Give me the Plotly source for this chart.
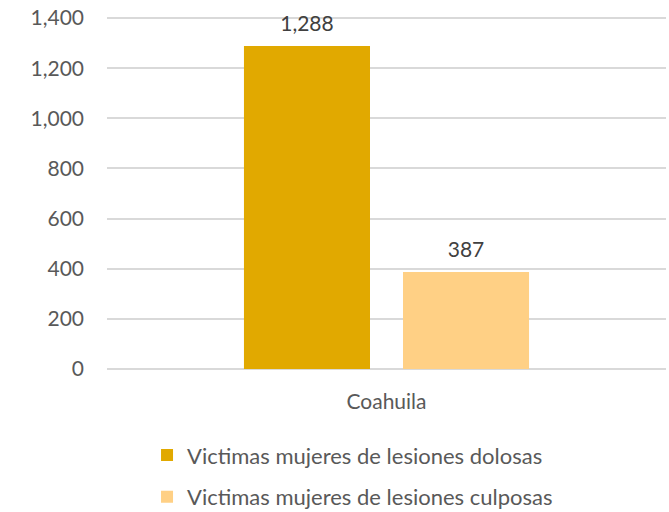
import plotly.graph_objects as go

categories = ["Coahuila"]
series_names = ["Victimas mujeres de lesiones dolosas", "Victimas mujeres de lesiones culposas"]
dolosas = [1288]
culposas = [387]
y_ticks = [0, 200, 400, 600, 800, 1000, 1200, 1400]
colors = ["#E1A900", "#FFD085"]

FONT = "Lato, Open Sans, sans-serif"

fig = go.Figure()
for i, (name, vals) in enumerate(zip(series_names, [dolosas, culposas])):
    fig.add_trace(go.Bar(
        x=categories, y=vals, name=name,
        marker=dict(color=colors[i], line=dict(width=0)),
        texttemplate="<span style='font-size:21px'>%{y:,}</span><br> ",
        textposition="outside",
        textfont=dict(family=FONT, size=8, color="#404040"),
        cliponaxis=False,
        legendgroup=f"g{i}",
    ))

fig.update_layout(
    width=669, height=512,
    margin=dict(l=107, r=3, t=15.5, b=143, autoexpand=False),
    paper_bgcolor="white", plot_bgcolor="white",
    barmode="group", bargap=0.431, bargroupgap=0.2075,
    font=dict(family=FONT, size=21, color="#595959"),
    showlegend=True,
    legend=dict(
        orientation="v", x=0.0716, xanchor="left", y=-0.185, yanchor="top",
        font=dict(family=FONT, size=22, color="#595959"),
        traceorder="grouped", tracegroupgap=10,
        itemwidth=30,
    ),
)
fig.update_yaxes(
    range=[0, 1408], tickvals=y_ticks, ticktext=[f"{v:,}" for v in y_ticks],
    showgrid=True, gridcolor="#D9D9D9", gridwidth=1.5,
    zeroline=True, zerolinecolor="#D9D9D9", zerolinewidth=1.5,
    showline=False, ticks="", ticklabelstandoff=22, automargin=False,
    ticklabeloverflow="allow",
    tickfont=dict(family=FONT, size=21, color="#595959"),
)
fig.update_xaxes(
    showline=False, ticks="", showgrid=False, automargin=False,
    tickfont=dict(family=FONT, size=21, color="#595959"),
    ticklabelstandoff=18,
)

fig.write_html(
    "out.html",
    config={"displayModeBar": False},
    post_script="document.body.style.margin='0';",
)
